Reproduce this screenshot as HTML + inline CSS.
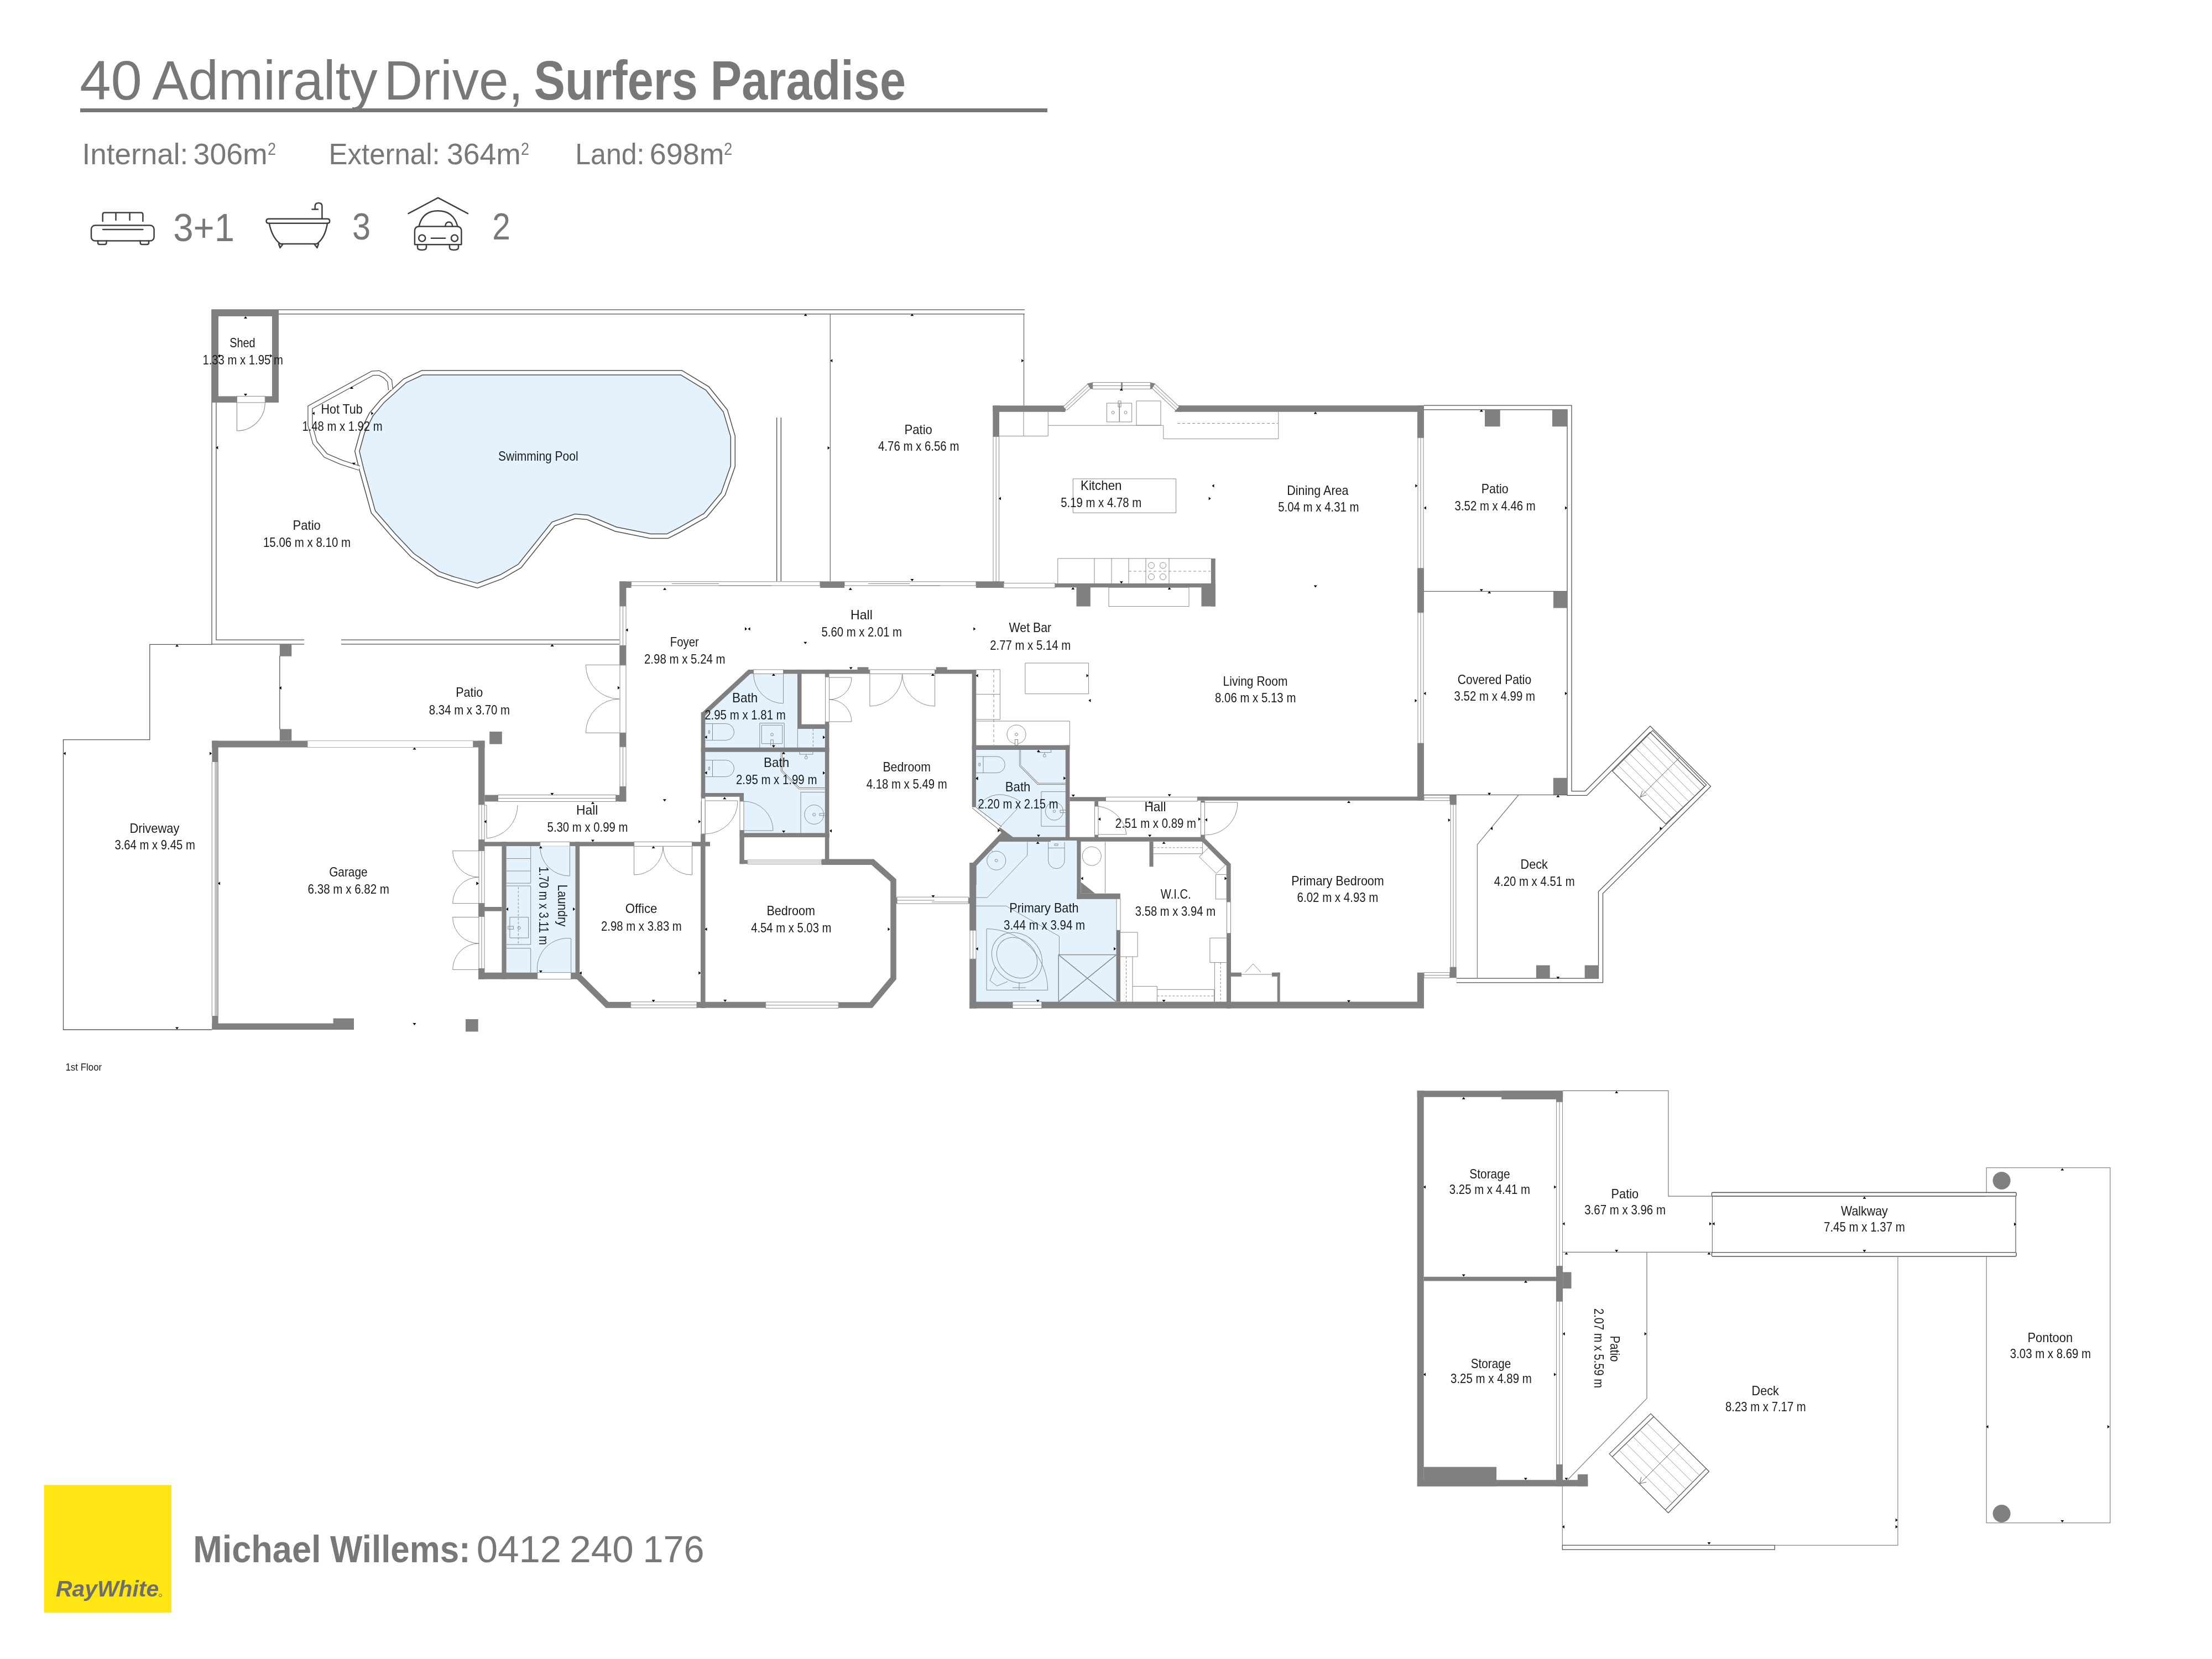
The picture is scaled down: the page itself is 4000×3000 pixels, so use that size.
<!DOCTYPE html><html><head><meta charset="utf-8"><style>html,body{margin:0;padding:0;background:#fff;}svg{display:block;will-change:transform;}text{font-family:"Liberation Sans",sans-serif;}</style></head><body>
<svg width="4000" height="3000" viewBox="0 0 4000 3000">
<rect width="4000" height="3000" fill="#fff"/>
<text x="144.2" y="179.5" font-size="100" fill="#787878" font-weight="normal" textLength="112.6" lengthAdjust="spacingAndGlyphs" >40</text>
<text x="275.2" y="179.5" font-size="100" fill="#787878" font-weight="normal" textLength="407.4" lengthAdjust="spacingAndGlyphs" >Admiralty</text>
<text x="694.4" y="179.5" font-size="100" fill="#787878" font-weight="normal" textLength="252.0" lengthAdjust="spacingAndGlyphs" >Drive,</text>
<text x="965.6" y="179.5" font-size="100" fill="#787878" font-weight="bold" textLength="296.1" lengthAdjust="spacingAndGlyphs" >Surfers</text>
<text x="1284.8" y="179.5" font-size="100" fill="#787878" font-weight="bold" textLength="353.2" lengthAdjust="spacingAndGlyphs" >Paradise</text>
<rect x="145.0" y="196.0" width="1749.0" height="7.0" fill="#787878"/>
<text x="148.6" y="296.5" font-size="53.8" fill="#787878" font-weight="normal" textLength="191.6" lengthAdjust="spacingAndGlyphs" >Internal:</text>
<text x="349.6" y="296.5" font-size="53.8" fill="#787878" font-weight="normal" textLength="134.2" lengthAdjust="spacingAndGlyphs" >306m</text>
<text x="594.6" y="296.5" font-size="53.8" fill="#787878" font-weight="normal" textLength="201.1" lengthAdjust="spacingAndGlyphs" >External:</text>
<text x="808.0" y="296.5" font-size="53.8" fill="#787878" font-weight="normal" textLength="133.8" lengthAdjust="spacingAndGlyphs" >364m</text>
<text x="1040.2" y="296.5" font-size="53.8" fill="#787878" font-weight="normal" textLength="125.3" lengthAdjust="spacingAndGlyphs" >Land:</text>
<text x="1174.8" y="296.5" font-size="53.8" fill="#787878" font-weight="normal" textLength="134.7" lengthAdjust="spacingAndGlyphs" >698m</text>
<text x="483.9" y="279.7" font-size="31" fill="#787878" font-weight="normal" textLength="15.0" lengthAdjust="spacingAndGlyphs" >2</text>
<text x="942.0" y="279.7" font-size="31" fill="#787878" font-weight="normal" textLength="15.0" lengthAdjust="spacingAndGlyphs" >2</text>
<text x="1309.2" y="279.7" font-size="31" fill="#787878" font-weight="normal" textLength="15.0" lengthAdjust="spacingAndGlyphs" >2</text>
<text x="313.2" y="435.6" font-size="70" fill="#787878" font-weight="normal" textLength="110.9" lengthAdjust="spacingAndGlyphs" >3+1</text>
<text x="636.9" y="432.5" font-size="69" fill="#787878" font-weight="normal" textLength="33.1" lengthAdjust="spacingAndGlyphs" >3</text>
<text x="890.2" y="432.5" font-size="69" fill="#787878" font-weight="normal" textLength="32.6" lengthAdjust="spacingAndGlyphs" >2</text>
<g fill="none" stroke="#3f3f3f" stroke-width="2.5" stroke-linecap="round" stroke-linejoin="round">
<path d="M185.7,400 V388 Q185.7,384.6 189,384.6 H255 Q258.4,384.6 258.4,388 V400"/>
<path d="M209.5,385 V398 M234.6,385 V398"/>
<rect x="165" y="407.6" width="113.6" height="28" rx="7"/>
<path d="M186.1,415 H258.4"/>
<path d="M177,435.6 V439 Q177,442 180,442 H189 Q192.5,442 192.5,439 V435.6 M253.7,435.6 V439 Q253.7,442 257,442 H266 Q269,442 269,439 V435.6"/>
<path d="M486,403.7 Q481.5,403.7 481.5,399.7 Q481.5,395.7 486,395.7 H592 Q596.2,395.7 596.2,399.7 Q596.2,403.7 592,403.7 Z"/>
<path d="M486.8,403.7 Q492,430 507,441 H572.9 Q588,430 592,403.7"/>
<path d="M504,441 L506.5,448 L512,441 M568,441 L573.5,448 L576,441"/>
<path d="M582.4,395.7 V373 Q582.4,367 576,367 Q569.7,367 569.7,373 V378.5 M564.4,378.5 H575"/>
<path d="M738.4,386.1 L792.1,357.7 L846,386.1"/>
<path d="M757.6,409.2 Q764,381.2 792.1,381.2 Q820,381.2 827.5,409.2"/>
<path d="M749.9,442.2 V418 Q749.9,409.6 758,409.6 H826 Q834.4,409.6 834.4,418 V442.2 Z"/>
<circle cx="763.2" cy="430.7" r="6"/><circle cx="822" cy="430.7" r="6"/>
<path d="M779.9,430.7 H805.2"/>
<path d="M755,442.2 V447 Q755,452 762,452 H764 Q771,452 771,447 V442.2 M812.9,442.2 V447 Q812.9,452 820,452 H822 Q829,452 829,447 V442.2"/>
<path d="M805.2,409 Q806,401.5 811.7,401.5 Q817.5,401.5 818.3,409"/>
</g>
<path d="M550,1161 H387 V564 H1853" fill="none" stroke="#4d4d4d" stroke-width="9.2" stroke-linejoin="miter"/><path d="M550,1161 H387 V564 H1853" fill="none" stroke="#fff" stroke-width="6.699999999999999" stroke-linejoin="miter"/>
<path d="M617,1161 H1120" fill="none" stroke="#4d4d4d" stroke-width="9.2" stroke-linejoin="miter"/><path d="M617,1161 H1120" fill="none" stroke="#fff" stroke-width="6.699999999999999" stroke-linejoin="miter"/>
<path d="M1851.5,568 V733.5" fill="none" stroke="#666" stroke-width="1.2" />
<path d="M1501.3,568 V1051" fill="none" stroke="#666" stroke-width="1.2" />
<path d="M1408.5,755 V1051" fill="none" stroke="#4d4d4d" stroke-width="9" stroke-linejoin="miter"/><path d="M1408.5,755 V1051" fill="none" stroke="#fff" stroke-width="6.4" stroke-linejoin="miter"/>
<rect x="383.0" y="560.0" width="121.0" height="12.0" fill="#808080"/>
<rect x="383.0" y="560.0" width="12.0" height="168.0" fill="#808080"/>
<rect x="492.0" y="560.0" width="12.0" height="168.0" fill="#808080"/>
<rect x="383.0" y="716.5" width="45.4" height="11.5" fill="#808080"/>
<rect x="479.3" y="716.5" width="24.7" height="11.5" fill="#808080"/>
<rect x="428.4" y="716.5" width="50.9" height="11.5" fill="#fff" stroke="#8a8a8a" stroke-width="1"/>
<path d="M428.4,728 V779 A51,51 0 0 0 479.3,728" fill="none" stroke="#8a8a8a" stroke-width="1.1" />
<polygon points="763.4,674.0 1232.2,674.0 1279.2,702.5 1311.7,743.0 1325.3,789.0 1325.3,843.0 1307.7,893.0 1275.2,932.0 1230.0,957.7 1207.0,969.5 1176.0,969.5 1113.5,957.0 1062.5,935.5 1040.0,933.5 1000.5,947.5 939.7,1023.6 906.4,1043.0 863.3,1059.0 820.0,1047.0 792.8,1037.4 745.8,1004.0 712.5,968.8 675.0,925.7 653.8,849.0 645.8,816.0 655.6,780.8 671.3,749.4 691.0,725.8 732.0,688.8" fill="#E3F2FC" stroke="#4d4d4d" stroke-width="9.5" stroke-linejoin="miter"/>
<polygon points="763.4,674.0 1232.2,674.0 1279.2,702.5 1311.7,743.0 1325.3,789.0 1325.3,843.0 1307.7,893.0 1275.2,932.0 1230.0,957.7 1207.0,969.5 1176.0,969.5 1113.5,957.0 1062.5,935.5 1040.0,933.5 1000.5,947.5 939.7,1023.6 906.4,1043.0 863.3,1059.0 820.0,1047.0 792.8,1037.4 745.8,1004.0 712.5,968.8 675.0,925.7 653.8,849.0 645.8,816.0 655.6,780.8 671.3,749.4 691.0,725.8 732.0,688.8" fill="none" stroke="#fff" stroke-width="6.5" stroke-linejoin="miter"/>
<path d="M649.8,846.5 L616.5,835.6 L589,823.8 L569.4,800.3 L560.9,769 L560.9,736.5 L673.3,675 L685,674.3 L694.8,679 L704.6,688.8 L706.5,705" fill="none" stroke="#4d4d4d" stroke-width="9.2" stroke-linejoin="miter"/><path d="M649.8,846.5 L616.5,835.6 L589,823.8 L569.4,800.3 L560.9,769 L560.9,736.5 L673.3,675 L685,674.3 L694.8,679 L704.6,688.8 L706.5,705" fill="none" stroke="#fff" stroke-width="6.699999999999999" stroke-linejoin="miter"/>
<text x="415.2" y="628.0" font-size="23.8" fill="#1a1a1a" font-weight="normal" textLength="46.5" lengthAdjust="spacingAndGlyphs" >Shed</text>
<text x="366.4" y="658.5" font-size="23.8" fill="#1a1a1a" font-weight="normal" textLength="145.4" lengthAdjust="spacingAndGlyphs" >1.33 m x 1.95 m</text>
<text x="580.6" y="748.0" font-size="23.8" fill="#1a1a1a" font-weight="normal" textLength="75.1" lengthAdjust="spacingAndGlyphs" >Hot Tub</text>
<text x="546.4" y="778.8" font-size="23.8" fill="#1a1a1a" font-weight="normal" textLength="145.2" lengthAdjust="spacingAndGlyphs" >1.48 m x 1.92 m</text>
<text x="901.0" y="832.5" font-size="23.8" fill="#1a1a1a" font-weight="normal" textLength="144.6" lengthAdjust="spacingAndGlyphs" >Swimming Pool</text>
<text x="529.6" y="958.3" font-size="23.8" fill="#1a1a1a" font-weight="normal" textLength="50.3" lengthAdjust="spacingAndGlyphs" >Patio</text>
<text x="476.0" y="988.5" font-size="23.8" fill="#1a1a1a" font-weight="normal" textLength="158.0" lengthAdjust="spacingAndGlyphs" >15.06 m x 8.10 m</text>
<text x="1635.6" y="784.6" font-size="23.8" fill="#1a1a1a" font-weight="normal" textLength="50.3" lengthAdjust="spacingAndGlyphs" >Patio</text>
<text x="1588.0" y="814.8" font-size="23.8" fill="#1a1a1a" font-weight="normal" textLength="146.4" lengthAdjust="spacingAndGlyphs" >4.76 m x 6.56 m</text>
<path d="M383.4,1165.3 H270.8 V1337.6 H114.5 V1862 H383.4" fill="none" stroke="#555" stroke-width="1.3" />
<path d="M505.8,1186 V1319" fill="none" stroke="#555" stroke-width="1.3" />
<rect x="505.8" y="1165.3" width="21.5" height="21.5" fill="#808080"/>
<rect x="505.8" y="1318.4" width="21.5" height="21.1" fill="#808080"/>
<rect x="885.2" y="1323.0" width="22.6" height="22.6" fill="#808080"/>
<rect x="383.2" y="1339.5" width="173.0" height="12.0" fill="#808080"/>
<rect x="556.2" y="1339.5" width="299.4" height="12.0" fill="#fff" stroke="#aaa" stroke-width="1"/>
<rect x="855.6" y="1339.5" width="20.9" height="12.0" fill="#808080"/>
<rect x="383.4" y="1339.5" width="11.3" height="38.5" fill="#808080"/>
<rect x="383" y="1378" width="11.5" height="459" fill="#fff"/><rect x="388.2" y="1378" width="5.8" height="459" fill="#c0c0c0"/><path d="M383.3,1378V1837M394.4,1378V1837" stroke="#888" stroke-width="1"/>
<rect x="383.4" y="1837.0" width="11.3" height="25.0" fill="#808080"/>
<rect x="383.4" y="1850.6" width="256.6" height="11.4" fill="#808080"/>
<rect x="602.6" y="1841.5" width="37.4" height="20.5" fill="#808080"/>
<rect x="842.0" y="1843.0" width="22.7" height="22.5" fill="#808080"/>
<rect x="865.0" y="1339.5" width="11.5" height="115.5" fill="#808080"/>
<rect x="866.0" y="1455.0" width="10.0" height="63.4" fill="#fff" stroke="#8a8a8a" stroke-width="1"/>
<path d="M871.0,1455.0V1518.4" stroke="#8a8a8a" stroke-width="1"/>
<rect x="865.0" y="1518.4" width="11.5" height="20.1" fill="#808080"/>
<rect x="866.0" y="1538.5" width="10.0" height="95.0" fill="#fff" stroke="#8a8a8a" stroke-width="1"/>
<path d="M871.0,1538.5V1633.5" stroke="#8a8a8a" stroke-width="1"/>
<rect x="865.0" y="1633.5" width="11.5" height="24.0" fill="#808080"/>
<rect x="866.0" y="1657.5" width="10.0" height="94.0" fill="#fff" stroke="#8a8a8a" stroke-width="1"/>
<path d="M871.0,1657.5V1751.5" stroke="#8a8a8a" stroke-width="1"/>
<rect x="865.0" y="1751.5" width="11.5" height="19.2" fill="#808080"/>
<rect x="876.5" y="1437.5" width="24.0" height="12.0" fill="#808080"/>
<path d="M866,1538.7 H818.6 A47.5,47.5 0 0 0 866,1586.2 M866,1633.6 H818.6 A47.5,47.5 0 0 1 866,1586.2" fill="none" stroke="#8a8a8a" stroke-width="1" />
<path d="M866,1658.5 H818.6 A47.5,47.5 0 0 0 866,1706 M866,1753.4 H818.6 A47.5,47.5 0 0 1 866,1706" fill="none" stroke="#8a8a8a" stroke-width="1" />
<rect x="900.5" y="1437.5" width="213.2" height="12.0" fill="#fff" stroke="#8a8a8a" stroke-width="1"/>
<path d="M900.5,1443.5H1113.7" stroke="#8a8a8a" stroke-width="1"/>
<rect x="1113.7" y="1437.5" width="18.5" height="12.0" fill="#808080"/>
<rect x="865.0" y="1522.3" width="111.6" height="8.0" fill="#808080"/>
<rect x="976.6" y="1522.3" width="53.8" height="8.0" fill="#fff" stroke="#8a8a8a" stroke-width="1"/>
<rect x="1030.4" y="1522.3" width="116.2" height="8.0" fill="#808080"/>
<rect x="1146.6" y="1522.3" width="104.9" height="8.0" fill="#fff" stroke="#8a8a8a" stroke-width="1"/>
<rect x="1251.5" y="1522.3" width="32.5" height="8.0" fill="#808080"/>
<path d="M876.3,1456 H880 V1516 A60,60 0 0 0 936,1456" fill="none" stroke="#8a8a8a" stroke-width="1" />
<rect x="876.0" y="1640.0" width="31.4" height="7.7" fill="#808080"/>
<rect x="915.6" y="1530.3" width="124.9" height="228.4" fill="#E3F2FC"/>
<rect x="907.4" y="1522.3" width="8.2" height="248.4" fill="#808080"/>
<rect x="1040.5" y="1522.3" width="7.7" height="248.4" fill="#808080"/>
<rect x="865.0" y="1758.7" width="106.8" height="12.0" fill="#808080"/>
<rect x="971.8" y="1758.7" width="60.8" height="12.0" fill="#fff" stroke="#8a8a8a" stroke-width="1"/>
<rect x="1032.6" y="1758.7" width="15.6" height="12.0" fill="#808080"/>
<path d="M915.6,1552.5 H959.7 M915.6,1575 H959.7 M915.6,1597.1 H959.7 V1530.3 M915.6,1602 H959.7 V1708 H915.6 M915.6,1714.8 H959.7 V1758.7 M921.9,1658.6 H955.6 V1696 H921.9 Z M918.7,1675 H928.4 V1680.3 H918.7 Z" fill="none" stroke="#8a8a8a" stroke-width="1" />
<path d="M937.3,1604 V1706" fill="none" stroke="#8a8a8a" stroke-width="1" stroke-dasharray="4,3"/>
<circle cx="938.7" cy="1677.9" r="2.5" fill="none" stroke="#8a8a8a" stroke-width="1"/>
<path d="M976.6,1530.3 A53,53 0 0 0 1030.4,1584 V1530.3 M971.8,1758.7 A55,55 0 0 1 1032.6,1697 V1758.7" fill="none" stroke="#8a8a8a" stroke-width="1" />
<path d="M1044.3,1764 L1098,1817.2 H1140.6" fill="none" stroke="#808080" stroke-width="11" stroke-linejoin="miter" stroke-miterlimit="10"/>
<rect x="1140.6" y="1811.7" width="119.4" height="10.9" fill="#fff" stroke="#8a8a8a" stroke-width="1"/>
<path d="M1140.6,1817.2H1260.0" stroke="#8a8a8a" stroke-width="1"/>
<rect x="1260.0" y="1811.7" width="124.6" height="10.9" fill="#808080"/>
<rect x="1267.0" y="1509.0" width="8.3" height="313.6" fill="#808080"/>
<path d="M1146.6,1530.3 V1582 A52,52 0 0 0 1199,1530.3 M1251.5,1530.3 V1582 A52,52 0 0 1 1199,1530.3" fill="none" stroke="#8a8a8a" stroke-width="1" />
<rect x="1268.0" y="1449.5" width="7.0" height="59.5" fill="#fff" stroke="#8a8a8a" stroke-width="1"/>
<path d="M1271.5,1449.5V1509.0" stroke="#8a8a8a" stroke-width="1"/>
<rect x="1120.5" y="1051.4" width="21.0" height="11.6" fill="#808080"/>
<rect x="1120.2" y="1051.4" width="12.2" height="44.7" fill="#808080"/>
<rect x="1121.0" y="1096.1" width="11.0" height="71.2" fill="#fff" stroke="#8a8a8a" stroke-width="1"/>
<path d="M1126.5,1096.1V1167.3" stroke="#8a8a8a" stroke-width="1"/>
<rect x="1120.2" y="1167.3" width="12.2" height="35.6" fill="#808080"/>
<rect x="1121.0" y="1202.9" width="11.0" height="122.3" fill="#fff" stroke="#8a8a8a" stroke-width="1"/>
<rect x="1120.2" y="1325.2" width="12.2" height="25.5" fill="#808080"/>
<rect x="1121.0" y="1350.7" width="11.0" height="71.7" fill="#fff" stroke="#8a8a8a" stroke-width="1"/>
<path d="M1126.5,1350.7V1422.4" stroke="#8a8a8a" stroke-width="1"/>
<rect x="1120.2" y="1422.4" width="12.2" height="27.1" fill="#808080"/>
<path d="M1120.5,1202.4 H1059.4 A61,61 0 0 0 1120.5,1264 M1120.5,1325.2 H1059.4 A61,61 0 0 1 1120.5,1264" fill="none" stroke="#8a8a8a" stroke-width="1" />
<text x="234.4" y="1505.7" font-size="23.8" fill="#1a1a1a" font-weight="normal" textLength="90.0" lengthAdjust="spacingAndGlyphs" >Driveway</text>
<text x="207.4" y="1536.4" font-size="23.8" fill="#1a1a1a" font-weight="normal" textLength="145.4" lengthAdjust="spacingAndGlyphs" >3.64 m x 9.45 m</text>
<text x="595.2" y="1585.3" font-size="23.8" fill="#1a1a1a" font-weight="normal" textLength="69.3" lengthAdjust="spacingAndGlyphs" >Garage</text>
<text x="556.6" y="1616.4" font-size="23.8" fill="#1a1a1a" font-weight="normal" textLength="147.4" lengthAdjust="spacingAndGlyphs" >6.38 m x 6.82 m</text>
<text x="824.2" y="1260.3" font-size="23.8" fill="#1a1a1a" font-weight="normal" textLength="49.1" lengthAdjust="spacingAndGlyphs" >Patio</text>
<text x="775.8" y="1291.6" font-size="23.8" fill="#1a1a1a" font-weight="normal" textLength="146.2" lengthAdjust="spacingAndGlyphs" >8.34 m x 3.70 m</text>
<text x="1042.0" y="1472.9" font-size="23.8" fill="#1a1a1a" font-weight="normal" textLength="39.4" lengthAdjust="spacingAndGlyphs" >Hall</text>
<text x="989.6" y="1504.3" font-size="23.8" fill="#1a1a1a" font-weight="normal" textLength="145.8" lengthAdjust="spacingAndGlyphs" >5.30 m x 0.99 m</text>
<text x="1130.8" y="1651.4" font-size="23.8" fill="#1a1a1a" font-weight="normal" textLength="57.6" lengthAdjust="spacingAndGlyphs" >Office</text>
<text x="1087.0" y="1682.7" font-size="23.8" fill="#1a1a1a" font-weight="normal" textLength="145.8" lengthAdjust="spacingAndGlyphs" >2.98 m x 3.83 m</text>
<text x="1211.8" y="1169.0" font-size="23.8" fill="#1a1a1a" font-weight="normal" textLength="52.0" lengthAdjust="spacingAndGlyphs" >Foyer</text>
<text x="1165.0" y="1199.5" font-size="23.8" fill="#1a1a1a" font-weight="normal" textLength="146.6" lengthAdjust="spacingAndGlyphs" >2.98 m x 5.24 m</text>
<g transform="translate(1009,1637.5) rotate(90)"><text x="0" y="0" font-size="23.8" fill="#1a1a1a" text-anchor="middle" textLength="76" lengthAdjust="spacingAndGlyphs">Laundry</text></g>
<g transform="translate(974.5,1638) rotate(90)"><text x="0" y="0" font-size="23.8" fill="#1a1a1a" text-anchor="middle" textLength="142" lengthAdjust="spacingAndGlyphs">1.70 m x 3.11 m</text></g>
<rect x="1482.9" y="1051.3" width="44.1" height="11.7" fill="#808080"/>
<rect x="1765.0" y="1051.3" width="51.0" height="11.7" fill="#808080"/>
<rect x="1141.5" y="1051.8" width="341.4" height="7.2" fill="#fff" stroke="#8a8a8a" stroke-width="1"/>
<rect x="1527.0" y="1051.8" width="238.0" height="7.2" fill="#fff" stroke="#8a8a8a" stroke-width="1"/>
<path d="M1215,1055.5 H1300 M1300,1059 H1395 M1570,1055.5 H1645 M1645,1059 H1700" fill="none" stroke="#8a8a8a" stroke-width="1" />
<rect x="1815.0" y="1054.6" width="92.8" height="8.4" fill="#fff"/>
<rect x="1815.0" y="1054.6" width="92.8" height="8.4" fill="#fff" stroke="#8a8a8a" stroke-width="1"/>
<rect x="1907.8" y="1055.0" width="290.0" height="7.3" fill="#808080"/>
<rect x="1946.5" y="1055.0" width="25.3" height="41.6" fill="#808080"/>
<rect x="2172.5" y="1062.0" width="25.3" height="34.6" fill="#808080"/>
<rect x="2189.9" y="1009.9" width="7.9" height="86.7" fill="#808080"/>
<rect x="2005.0" y="1062.3" width="145.0" height="34.3" fill="#fff" stroke="#8a8a8a" stroke-width="1"/>
<polygon fill="#E3F2FC" points="1352.6,1218.5 1442.0,1218.5 1442.0,1318.0 1491.8,1318.0 1491.8,1351.7 1275.3,1351.7 1275.3,1290.0"/>
<polygon fill="#E3F2FC" points="1275.3,1359.8 1491.8,1359.8 1491.8,1506.3 1345.0,1506.3 1345.0,1440.8 1275.3,1440.8"/>
<rect x="1352.6" y="1210.9" width="10.1" height="7.6" fill="#808080"/>
<rect x="1362.7" y="1210.9" width="53.9" height="7.6" fill="#fff" stroke="#8a8a8a" stroke-width="1"/>
<rect x="1416.6" y="1210.9" width="156.3" height="7.6" fill="#808080"/>
<rect x="1572.9" y="1210.9" width="117.7" height="7.6" fill="#fff" stroke="#8a8a8a" stroke-width="1"/>
<rect x="1690.6" y="1210.9" width="74.7" height="7.6" fill="#808080"/>
<rect x="1550.5" y="1206.4" width="20.0" height="4.6" fill="#808080"/>
<rect x="1692.7" y="1206.4" width="20.0" height="4.6" fill="#808080"/>
<path d="M1355,1214.7 L1271.5,1292" fill="none" stroke="#808080" stroke-width="8" stroke-linejoin="miter" stroke-miterlimit="10"/>
<rect x="1267.7" y="1288.0" width="7.6" height="155.4" fill="#808080"/>
<rect x="1267.7" y="1351.7" width="231.7" height="8.1" fill="#808080"/>
<rect x="1442.0" y="1210.9" width="7.5" height="107.1" fill="#808080"/>
<rect x="1442.0" y="1309.7" width="57.4" height="8.3" fill="#808080"/>
<rect x="1491.8" y="1210.9" width="7.6" height="13.4" fill="#808080"/>
<rect x="1492.6" y="1224.3" width="6.8" height="81.0" fill="#fff" stroke="#8a8a8a" stroke-width="1"/>
<rect x="1491.8" y="1305.3" width="7.6" height="257.1" fill="#808080"/>
<rect x="1267.7" y="1434.0" width="77.3" height="6.8" fill="#808080"/>
<rect x="1337.4" y="1434.0" width="7.6" height="15.0" fill="#808080"/>
<rect x="1338.0" y="1449.0" width="7.0" height="52.6" fill="#fff" stroke="#8a8a8a" stroke-width="1"/>
<rect x="1337.4" y="1501.6" width="8.4" height="60.7" fill="#808080"/>
<rect x="1337.6" y="1506.3" width="162.2" height="7.8" fill="#808080"/>
<rect x="1267.7" y="1508.0" width="7.6" height="315.0" fill="#808080"/>
<rect x="1268.5" y="1443.4" width="6.5" height="64.6" fill="#fff" stroke="#8a8a8a" stroke-width="1"/>
<rect x="1337.6" y="1555.2" width="14.1" height="7.1" fill="#808080"/>
<rect x="1351.7" y="1555.2" width="134.0" height="7.1" fill="#fff" stroke="#8a8a8a" stroke-width="1"/>
<path d="M1351.7,1558.8H1485.7" stroke="#8a8a8a" stroke-width="1"/>
<rect x="1485.7" y="1555.2" width="94.0" height="7.1" fill="#808080"/>
<path d="M1516.2,1817.5 H1575 L1615.5,1769 V1592 L1578,1558.7 H1486" fill="none" stroke="#808080" stroke-width="10.5" stroke-linejoin="miter" stroke-miterlimit="10"/>
<rect x="1384.6" y="1812.0" width="131.6" height="11.2" fill="#fff" stroke="#8a8a8a" stroke-width="1"/>
<path d="M1384.6,1817.6H1516.2" stroke="#8a8a8a" stroke-width="1"/>
<rect x="1622.0" y="1622.2" width="129.3" height="11.8" fill="#fff" stroke="#8a8a8a" stroke-width="1"/>
<path d="M1622,1628 H1690 M1685,1631 H1751" fill="none" stroke="#8a8a8a" stroke-width="1" />
<rect x="1617.3" y="1623.4" width="4.7" height="10.6" fill="#808080"/>
<rect x="1751.3" y="1623.4" width="7.1" height="10.6" fill="#808080"/>
<rect x="1757.7" y="1210.9" width="7.6" height="248.8" fill="#808080"/>
<path d="M1362.7,1218.5 A54,54 0 0 0 1416.6,1272 V1218.5" fill="none" stroke="#8a8a8a" stroke-width="1" />
<path d="M1572.9,1218.5 V1277 A58.8,58.8 0 0 0 1631.7,1218.5 M1690.6,1218.5 V1277 A58.8,58.8 0 0 1 1631.7,1218.5" fill="none" stroke="#8a8a8a" stroke-width="1" />
<path d="M1499.4,1225 H1540 A40,40 0 0 1 1499.4,1265 M1499.4,1305 H1540 A40,40 0 0 0 1499.4,1265" fill="none" stroke="#8a8a8a" stroke-width="1" />
<path d="M1345,1449 A53,53 0 0 1 1398,1502 H1345" fill="none" stroke="#8a8a8a" stroke-width="1" />
<path d="M1275.3,1448 H1334 A59,59 0 0 1 1275.3,1508" fill="none" stroke="#8a8a8a" stroke-width="1" />
<path d="M1275.5,1308.6 H1288.5 V1338.6 H1275.5 M1288.5,1308.6 H1312.5 A15,15 0 0 1 1312.5,1338.6 H1288.5 M1281.2,1321.1 H1283.5 V1326.1 H1281.2 Z" fill="none" stroke="#8a8a8a" stroke-width="1" />
<path d="M1275.5,1374.6 H1288.5 V1404.6 H1275.5 M1288.5,1374.6 H1312.5 A15,15 0 0 1 1312.5,1404.6 H1288.5 M1281.2,1387.1 H1283.5 V1392.1 H1281.2 Z" fill="none" stroke="#8a8a8a" stroke-width="1" />
<path d="M1373.8,1352.4 V1307.6 H1418.2 V1352.4 M1377.3,1311.3 H1414.7 V1344.7 H1377.3 Z M1393.7,1348.5 V1337.9 H1398.3 V1348.5" fill="none" stroke="#8a8a8a" stroke-width="1" />
<circle cx="1396" cy="1328.3" r="2.5" fill="none" stroke="#8a8a8a" stroke-width="1"/>
<path d="M1442.3,1317.7 V1351.7" fill="none" stroke="#8a8a8a" stroke-width="1" />
<path d="M1470.3,1318 V1351" fill="none" stroke="#8a8a8a" stroke-width="1" stroke-dasharray="4,3"/>
<path d="M1448,1506.3 V1432.5 H1491.5" fill="none" stroke="#8a8a8a" stroke-width="1" />
<circle cx="1472.2" cy="1473" r="17.4" fill="none" stroke="#8a8a8a" stroke-width="1"/><circle cx="1472.2" cy="1473" r="2.5" fill="none" stroke="#8a8a8a" stroke-width="1"/>
<path d="M1491.5,1471 H1481.8 V1474.8 H1491.5" fill="none" stroke="#8a8a8a" stroke-width="1" />
<path d="M1413.4,1360 V1393.9 L1445.2,1425.7 H1491.5" fill="none" stroke="#777" stroke-width="3.2"/><path d="M1413.4,1360 V1393.9 L1445.2,1425.7 H1491.5" fill="none" stroke="#fff" stroke-width="1.4"/>
<path d="M1446,1360 V1364 H1470 V1360 M1457.7,1364 V1368" fill="none" stroke="#8a8a8a" stroke-width="1" />
<circle cx="1457.7" cy="1370" r="2.5" fill="none" stroke="#8a8a8a" stroke-width="1"/>
<text x="1324.0" y="1269.9" font-size="23.8" fill="#1a1a1a" font-weight="normal" textLength="46.2" lengthAdjust="spacingAndGlyphs" >Bath</text>
<text x="1274.2" y="1301.0" font-size="23.8" fill="#1a1a1a" font-weight="normal" textLength="146.6" lengthAdjust="spacingAndGlyphs" >2.95 m x 1.81 m</text>
<text x="1381.0" y="1387.1" font-size="23.8" fill="#1a1a1a" font-weight="normal" textLength="46.2" lengthAdjust="spacingAndGlyphs" >Bath</text>
<text x="1331.0" y="1418.0" font-size="23.8" fill="#1a1a1a" font-weight="normal" textLength="146.4" lengthAdjust="spacingAndGlyphs" >2.95 m x 1.99 m</text>
<text x="1596.4" y="1395.0" font-size="23.8" fill="#1a1a1a" font-weight="normal" textLength="86.5" lengthAdjust="spacingAndGlyphs" >Bedroom</text>
<text x="1566.8" y="1425.7" font-size="23.8" fill="#1a1a1a" font-weight="normal" textLength="145.8" lengthAdjust="spacingAndGlyphs" >4.18 m x 5.49 m</text>
<text x="1386.4" y="1655.1" font-size="23.8" fill="#1a1a1a" font-weight="normal" textLength="87.5" lengthAdjust="spacingAndGlyphs" >Bedroom</text>
<text x="1358.2" y="1685.7" font-size="23.8" fill="#1a1a1a" font-weight="normal" textLength="145.2" lengthAdjust="spacingAndGlyphs" >4.54 m x 5.03 m</text>
<text x="1538.0" y="1120.0" font-size="23.8" fill="#1a1a1a" font-weight="normal" textLength="39.8" lengthAdjust="spacingAndGlyphs" >Hall</text>
<text x="1485.6" y="1150.5" font-size="23.8" fill="#1a1a1a" font-weight="normal" textLength="145.4" lengthAdjust="spacingAndGlyphs" >5.60 m x 2.01 m</text>
<text x="1824.6" y="1143.4" font-size="23.8" fill="#1a1a1a" font-weight="normal" textLength="76.6" lengthAdjust="spacingAndGlyphs" >Wet Bar</text>
<text x="1790.2" y="1175.2" font-size="23.8" fill="#1a1a1a" font-weight="normal" textLength="146.0" lengthAdjust="spacingAndGlyphs" >2.77 m x 5.14 m</text>
<rect x="1795.3" y="733.4" width="130.7" height="11.4" fill="#808080"/>
<polygon fill="#808080" points="1926.0,733.4 1931.0,733.4 1926.0,744.8 1919.0,744.8"/>
<rect x="2131.0" y="733.2" width="444.0" height="11.6" fill="#808080"/>
<polygon fill="#808080" points="2129.0,733.2 2136.0,733.2 2136.0,744.8 2124.0,744.8"/>
<path d="M1926,738.5 L1970.5,697.5" stroke="#8a8a8a" stroke-width="10" stroke-linecap="butt"/><path d="M1926,738.5 L1970.5,697.5" stroke="#fff" stroke-width="8"/><path d="M1926,738.5 L1970.5,697.5" stroke="#8a8a8a" stroke-width="1"/>
<path d="M2085,697.5 L2129,738.5" stroke="#8a8a8a" stroke-width="10" stroke-linecap="butt"/><path d="M2085,697.5 L2129,738.5" stroke="#fff" stroke-width="8"/><path d="M2085,697.5 L2129,738.5" stroke="#8a8a8a" stroke-width="1"/>
<rect x="1975.8" y="691.6" width="104.5" height="11.9" fill="#fff" stroke="#8a8a8a" stroke-width="1"/>
<path d="M1975.8,697.5H2080.3" stroke="#8a8a8a" stroke-width="1"/>
<polygon fill="#808080" points="1966.0,693.5 1975.8,691.6 1975.8,703.5 1972.0,703.5"/>
<polygon fill="#808080" points="2080.3,691.6 2089.0,693.5 2083.0,703.5 2080.3,703.5"/>
<rect x="2027.0" y="691.6" width="3.0" height="11.9" fill="#8a8a8a"/>
<rect x="1795.3" y="733.4" width="11.7" height="56.1" fill="#808080"/>
<rect x="1796.0" y="789.5" width="10.5" height="261.8" fill="#fff" stroke="#8a8a8a" stroke-width="1"/>
<path d="M1801.2,789.5V1051.3" stroke="#8a8a8a" stroke-width="1"/>
<rect x="2563.0" y="733.0" width="12.0" height="58.7" fill="#808080"/>
<rect x="2564.0" y="791.7" width="10.0" height="236.0" fill="#fff" stroke="#8a8a8a" stroke-width="1"/>
<path d="M2569.0,791.7V1027.7" stroke="#8a8a8a" stroke-width="1"/>
<rect x="2563.0" y="1027.7" width="12.0" height="79.9" fill="#808080"/>
<rect x="2564.0" y="1107.9" width="10.0" height="236.2" fill="#fff" stroke="#8a8a8a" stroke-width="1"/>
<path d="M2569.0,1107.9V1344.1" stroke="#8a8a8a" stroke-width="1"/>
<rect x="2563.0" y="1344.1" width="12.0" height="103.6" fill="#808080"/>
<path d="M1807,788.6 H1895.3 V744.8 M1851,744.8 V788.6 M1895.3,769.2 H2103.8 V793.6 H2311.8 V744.8" fill="none" stroke="#8a8a8a" stroke-width="1" />
<path d="M2129,765.5 H2311" fill="none" stroke="#8a8a8a" stroke-width="1" stroke-dasharray="5,4"/>
<path d="M2001.5,729 H2024 V763 H2001.5 Z M2024.5,729 H2046.7 V763 H2024.5 Z M2022,725 H2027 V736 H2022 Z" fill="none" stroke="#8a8a8a" stroke-width="1" />
<circle cx="2012.7" cy="746" r="2.5" fill="none" stroke="#8a8a8a" stroke-width="1"/><circle cx="2035.5" cy="746" r="2.5" fill="none" stroke="#8a8a8a" stroke-width="1"/>
<path d="M2055,725 H2099 V769 H2055 Z" fill="none" stroke="#8a8a8a" stroke-width="1" />
<path d="M1940.3,865.9 H2126.6 V927.4 H1940.3 Z" fill="none" stroke="#8a8a8a" stroke-width="1" />
<path d="M1912.8,1055 V1009.9 H2189.9 M1979,1009.9 V1055 M2010,1009.9 V1055 M2041,1009.9 V1055 M2072,1009.9 V1055 M2114,1009.9 V1055" fill="none" stroke="#8a8a8a" stroke-width="1" />
<path d="M2041,1033 H2189" fill="none" stroke="#8a8a8a" stroke-width="1" stroke-dasharray="5,4"/>
<circle cx="2082" cy="1022.5" r="5.5" fill="none" stroke="#8a8a8a" stroke-width="1"/>
<circle cx="2103" cy="1022.5" r="5.5" fill="none" stroke="#8a8a8a" stroke-width="1"/>
<circle cx="2082" cy="1043" r="5.5" fill="none" stroke="#8a8a8a" stroke-width="1"/>
<circle cx="2103" cy="1043" r="5.5" fill="none" stroke="#8a8a8a" stroke-width="1"/>
<path d="M1853.9,1199 H1968.6 V1254.7 H1853.9 Z" fill="none" stroke="#8a8a8a" stroke-width="1" />
<path d="M1765.3,1210.9 H1808.4 V1301 H1765.3 M1765.3,1255.4 H1808.4 M1765.3,1304 H1934.4 V1347.6" fill="none" stroke="#8a8a8a" stroke-width="1" />
<path d="M1797,1211 V1347" fill="none" stroke="#8a8a8a" stroke-width="1" stroke-dasharray="5,4"/>
<circle cx="1838" cy="1328" r="17" fill="none" stroke="#8a8a8a" stroke-width="1"/><circle cx="1838" cy="1328" r="2.5" fill="none" stroke="#8a8a8a" stroke-width="1"/><rect x="1835.5" y="1337.5" width="5" height="10" fill="#fff" stroke="#8a8a8a" stroke-width="1"/>
<polygon fill="#E3F2FC" points="1765.3,1356.0 1926.8,1356.0 1926.8,1513.7 1831.0,1513.7 1765.3,1459.0"/>
<rect x="1757.7" y="1347.6" width="176.7" height="8.4" fill="#808080"/>
<rect x="1926.8" y="1347.6" width="7.6" height="173.7" fill="#808080"/>
<path d="M1761.5,1464 L1808,1499" stroke="#fff" stroke-width="9"/><path d="M1758,1461 L1806,1500 M1765,1460 L1811,1495" stroke="#555" stroke-width="1"/>
<path d="M1809,1495 L1840,1462 M1767.7,1458 Q1800,1420 1846,1450" fill="none" stroke="#8a8a8a" stroke-width="1" />
<path d="M1844.5,1356 V1384.3 L1877,1417.4 H1926.8" fill="none" stroke="#777" stroke-width="3.2"/><path d="M1844.5,1356 V1384.3 L1877,1417.4 H1926.8" fill="none" stroke="#fff" stroke-width="1.4"/>
<path d="M1877,1356 V1360.7 H1900.6 V1356 M1888.8,1360.7 V1364" fill="none" stroke="#8a8a8a" stroke-width="1" />
<circle cx="1888.8" cy="1366.6" r="2.5" fill="none" stroke="#8a8a8a" stroke-width="1"/>
<path d="M1765.3,1368 H1778 V1397.6 H1765.3 M1778,1368 H1802.5 A14.8,14.8 0 0 1 1802.5,1397.6 H1778 M1770,1380 H1772.5 V1385 H1770 Z" fill="none" stroke="#8a8a8a" stroke-width="1" />
<path d="M1926.8,1431.6 H1882.9 V1494.2 H1926.8 M1926.8,1465 H1917 V1469.5 H1926.8" fill="none" stroke="#8a8a8a" stroke-width="1" />
<circle cx="1906.5" cy="1467" r="16.2" fill="none" stroke="#8a8a8a" stroke-width="1"/><circle cx="1906.5" cy="1467" r="2.3" fill="none" stroke="#8a8a8a" stroke-width="1"/>
<rect x="1934.4" y="1441.3" width="65.1" height="7.6" fill="#808080"/>
<rect x="1999.5" y="1441.3" width="165.8" height="7.6" fill="#fff" stroke="#8a8a8a" stroke-width="1"/>
<rect x="2165.3" y="1440.5" width="409.7" height="7.2" fill="#808080"/>
<rect x="1979.2" y="1448.9" width="6.8" height="9.1" fill="#808080"/>
<rect x="1979.5" y="1458.0" width="6.5" height="52.0" fill="#fff" stroke="#8a8a8a" stroke-width="1"/>
<rect x="1979.2" y="1510.0" width="6.8" height="11.0" fill="#808080"/>
<rect x="2171.1" y="1447.7" width="7.6" height="3.3" fill="#808080"/>
<rect x="2171.5" y="1451.0" width="7.0" height="59.0" fill="#fff" stroke="#8a8a8a" stroke-width="1"/>
<rect x="2171.1" y="1510.0" width="7.6" height="11.8" fill="#808080"/>
<rect x="1831.0" y="1513.7" width="344.4" height="8.1" fill="#808080"/>
<path d="M1986,1458 A58,58 0 0 1 2037,1509 H1986 M2178.7,1451 H2238 A58,58 0 0 1 2178.7,1510" fill="none" stroke="#8a8a8a" stroke-width="1" />
<polygon fill="#E3F2FC" points="1805.0,1520.0 1947.3,1520.0 1947.3,1625.0 2018.5,1625.0 2018.5,1811.4 1765.3,1811.4 1765.3,1563.0"/>
<polygon fill="#808080" points="1807.5,1495.5 1832.6,1514.3 1900.0,1514.3 1900.0,1522.0 1807.5,1522.0 1765.6,1565.4 1765.6,1600.0 1757.4,1600.0 1757.4,1562.0 1810.9,1505.6 1805.6,1500.3"/>
<rect x="1753.2" y="1560.0" width="12.1" height="122.3" fill="#808080"/>
<rect x="1754.0" y="1682.3" width="11.0" height="51.9" fill="#fff" stroke="#8a8a8a" stroke-width="1"/>
<path d="M1759.5,1682.3V1734.2" stroke="#8a8a8a" stroke-width="1"/>
<rect x="1753.2" y="1734.2" width="12.1" height="89.3" fill="#808080"/>
<rect x="1753.2" y="1811.4" width="77.9" height="12.1" fill="#808080"/>
<rect x="1831.1" y="1811.4" width="52.7" height="12.1" fill="#fff" stroke="#8a8a8a" stroke-width="1"/>
<path d="M1831.1,1817.5H1883.8" stroke="#8a8a8a" stroke-width="1"/>
<rect x="1883.8" y="1811.4" width="691.2" height="12.1" fill="#808080"/>
<rect x="1947.3" y="1514.0" width="7.2" height="111.8" fill="#808080"/>
<polygon fill="#808080" points="1954.5,1595.0 1980.5,1615.7 1954.5,1615.7"/>
<rect x="1947.3" y="1615.7" width="78.6" height="10.1" fill="#808080"/>
<rect x="2019.0" y="1625.3" width="7.0" height="57.0" fill="#fff" stroke="#8a8a8a" stroke-width="1"/>
<rect x="2018.5" y="1682.3" width="7.6" height="129.1" fill="#808080"/>
<path d="M1914.2,1811.4 V1726.6 H2018.5 M1914.2,1726.6 L2018.5,1811.4 M2018.5,1726.6 L1914.2,1811.4" fill="none" stroke="#8a8a8a" stroke-width="1.5" />
<path d="M1784,1679.6 A110.7,110.7 0 0 1 1894.7,1790.4 H1784 Z M1764.8,1638.3 H1819.4 L1915.4,1693 V1726.9" fill="none" stroke="#8a8a8a" stroke-width="1" />
<ellipse cx="1839" cy="1732" rx="49" ry="42" transform="rotate(45 1839 1732)" fill="none" stroke="#8a8a8a" stroke-width="1"/><ellipse cx="1839" cy="1732" rx="40" ry="33" transform="rotate(45 1839 1732)" fill="none" stroke="#8a8a8a" stroke-width="1"/>
<path d="M1800,1748 L1790,1773 L1803,1783 L1822,1775" fill="none" stroke="#8a8a8a" stroke-width="1" />
<path d="M1831,1786 H1855 M1843,1776 V1790" fill="none" stroke="#8a8a8a" stroke-width="1" />
<path d="M1764.8,1623 H1785.4 L1857.8,1546.7 V1522.5 M1784,1541 L1790,1535 L1796,1541" fill="none" stroke="#8a8a8a" stroke-width="1" />
<circle cx="1801.7" cy="1556.2" r="17" fill="none" stroke="#8a8a8a" stroke-width="1"/><circle cx="1801.7" cy="1556.2" r="2.5" fill="none" stroke="#8a8a8a" stroke-width="1"/>
<path d="M1895.6,1522.5 V1556 A14.75,14.75 0 0 0 1925.1,1556 V1522.5 M1895.6,1533.4 H1925.1 M1907,1526 H1913 V1529 H1907 Z" fill="none" stroke="#8a8a8a" stroke-width="1" />
<rect x="2078.5" y="1521.8" width="7.1" height="45.5" fill="#808080"/>
<path d="M2175.4,1518 L2221.7,1564 V1631.2" fill="none" stroke="#808080" stroke-width="8" stroke-linejoin="miter" stroke-miterlimit="10"/>
<rect x="2218.5" y="1631.0" width="7.0" height="56.8" fill="#fff" stroke="#8a8a8a" stroke-width="1"/>
<rect x="2218.0" y="1687.8" width="8.0" height="135.7" fill="#808080"/>
<path d="M2025.9,1686 H2057.1 V1730 H2025.9 M2048,1730 V1812 M2048,1783.6 H2092.4 V1812 M2092.4,1789.4 H2195.6 V1812 M2187.9,1696.2 H2217.8 M2187.9,1696.2 V1740.6 H2217.8 M2196.6,1740.6 V1812" fill="none" stroke="#8a8a8a" stroke-width="1" />
<path d="M2036.5,1730 V1812 M2207.2,1740.6 V1812 M2092.4,1801 H2195.6 M2085.7,1532.8 H2174.4" fill="none" stroke="#8a8a8a" stroke-width="1" stroke-dasharray="4,3"/>
<path d="M2085.7,1543.8 H2174.4 V1522.5 M1998.5,1522.5 V1615 M2168.6,1549.6 L2185,1533.2 L2215.9,1564 L2199.5,1579.5 Z M2198.5,1581.4 H2217.8 M2198.5,1581.4 V1625.8 H2217.8" fill="none" stroke="#8a8a8a" stroke-width="1" />
<circle cx="1974.3" cy="1548.2" r="17" fill="none" stroke="#8a8a8a" stroke-width="1"/>
<rect x="2562.9" y="1758.7" width="12.1" height="62.6" fill="#808080"/>
<rect x="2575.0" y="1758.7" width="46.7" height="9.6" fill="#fff" stroke="#8a8a8a" stroke-width="1"/>
<path d="M2575.0,1763.5H2621.7" stroke="#8a8a8a" stroke-width="1"/>
<rect x="2621.7" y="1749.0" width="12.1" height="19.3" fill="#808080"/>
<rect x="2621.7" y="1438.0" width="12.1" height="17.0" fill="#808080"/>
<rect x="2623.2" y="1455.0" width="9.6" height="294.0" fill="#fff" stroke="#8a8a8a" stroke-width="1"/>
<path d="M2628.0,1455.0V1749.0" stroke="#8a8a8a" stroke-width="1"/>
<rect x="2575.0" y="1438.0" width="46.7" height="9.7" fill="#fff" stroke="#8a8a8a" stroke-width="1"/>
<path d="M2575.0,1442.8H2621.7" stroke="#8a8a8a" stroke-width="1"/>
<rect x="2226.0" y="1758.7" width="19.0" height="7.2" fill="#808080"/>
<rect x="2300.0" y="1758.7" width="14.6" height="7.2" fill="#808080"/>
<rect x="2309.8" y="1758.7" width="4.8" height="62.6" fill="#808080"/>
<path d="M2245,1762 H2300 M2252,1758 L2266,1743 L2280,1758" fill="none" stroke="#8a8a8a" stroke-width="1" />
<path d="M2178.7,1521.8 V1510" fill="none" stroke="#8a8a8a" stroke-width="1" />
<path d="M2575,737 H2838 V1434.5 H2868 L2984,1318.5 L3088,1422 L2894.5,1614 V1773 H2633.8" fill="none" stroke="#4d4d4d" stroke-width="9.2" stroke-linejoin="miter"/><path d="M2575,737 H2838 V1434.5 H2868 L2984,1318.5 L3088,1422 L2894.5,1614 V1773 H2633.8" fill="none" stroke="#fff" stroke-width="6.699999999999999" stroke-linejoin="miter"/>
<rect x="2685.0" y="740.7" width="27.7" height="30.6" fill="#808080"/>
<rect x="2807.0" y="740.7" width="27.3" height="30.6" fill="#808080"/>
<rect x="2809.0" y="1069.4" width="25.3" height="30.1" fill="#808080"/>
<rect x="2808.8" y="1406.7" width="25.5" height="31.6" fill="#808080"/>
<path d="M2575,1069.4 H2834 M2575,1437.3 H2834" fill="none" stroke="#666" stroke-width="1.2" />
<path d="M2746.1,1437.5 L2671.4,1527.3 V1768.3" fill="none" stroke="#777" stroke-width="1.2" />
<rect x="2777.9" y="1745.5" width="24.8" height="24.1" fill="#808080"/>
<rect x="2865.7" y="1745.5" width="25.1" height="24.1" fill="#808080"/>
<path d="M2915.8,1394.4 L2988.6,1320.8 L3085.7,1419.5 L3012,1490 Z" fill="none" stroke="#555" stroke-width="1.2" />
<path d="M2926.2,1383.9 L3022.5,1479.9" fill="none" stroke="#999" stroke-width="1" />
<path d="M2936.6,1373.4 L3033.1,1469.9" fill="none" stroke="#999" stroke-width="1" />
<path d="M2947.0,1362.9 L3043.6,1459.8" fill="none" stroke="#999" stroke-width="1" />
<path d="M2957.4,1352.3 L3054.1,1449.7" fill="none" stroke="#999" stroke-width="1" />
<path d="M2967.8,1341.8 L3064.6,1439.6" fill="none" stroke="#999" stroke-width="1" />
<path d="M2978.2,1331.3 L3075.2,1429.6" fill="none" stroke="#999" stroke-width="1" />
<path d="M3037,1370 L2966,1441.5 M2966,1441.5 L2970,1430 M2966,1441.5 L2977,1437.5" fill="none" stroke="#666" stroke-width="1" />
<text x="1954.0" y="885.8" font-size="23.8" fill="#1a1a1a" font-weight="normal" textLength="74.5" lengthAdjust="spacingAndGlyphs" >Kitchen</text>
<text x="1918.2" y="916.5" font-size="23.8" fill="#1a1a1a" font-weight="normal" textLength="146.0" lengthAdjust="spacingAndGlyphs" >5.19 m x 4.78 m</text>
<text x="2327.2" y="894.5" font-size="23.8" fill="#1a1a1a" font-weight="normal" textLength="111.4" lengthAdjust="spacingAndGlyphs" >Dining Area</text>
<text x="2311.2" y="924.9" font-size="23.8" fill="#1a1a1a" font-weight="normal" textLength="146.4" lengthAdjust="spacingAndGlyphs" >5.04 m x 4.31 m</text>
<text x="2678.8" y="891.8" font-size="23.8" fill="#1a1a1a" font-weight="normal" textLength="48.9" lengthAdjust="spacingAndGlyphs" >Patio</text>
<text x="2630.6" y="923.0" font-size="23.8" fill="#1a1a1a" font-weight="normal" textLength="146.2" lengthAdjust="spacingAndGlyphs" >3.52 m x 4.46 m</text>
<text x="2211.6" y="1239.5" font-size="23.8" fill="#1a1a1a" font-weight="normal" textLength="116.9" lengthAdjust="spacingAndGlyphs" >Living Room</text>
<text x="2197.0" y="1270.3" font-size="23.8" fill="#1a1a1a" font-weight="normal" textLength="146.4" lengthAdjust="spacingAndGlyphs" >8.06 m x 5.13 m</text>
<text x="2635.8" y="1236.6" font-size="23.8" fill="#1a1a1a" font-weight="normal" textLength="133.4" lengthAdjust="spacingAndGlyphs" >Covered Patio</text>
<text x="2629.6" y="1267.0" font-size="23.8" fill="#1a1a1a" font-weight="normal" textLength="146.4" lengthAdjust="spacingAndGlyphs" >3.52 m x 4.99 m</text>
<text x="1817.8" y="1431.1" font-size="23.8" fill="#1a1a1a" font-weight="normal" textLength="45.6" lengthAdjust="spacingAndGlyphs" >Bath</text>
<text x="1768.4" y="1462.3" font-size="23.8" fill="#1a1a1a" font-weight="normal" textLength="145.2" lengthAdjust="spacingAndGlyphs" >2.20 m x 2.15 m</text>
<text x="2069.4" y="1466.8" font-size="23.8" fill="#1a1a1a" font-weight="normal" textLength="39.2" lengthAdjust="spacingAndGlyphs" >Hall</text>
<text x="2016.8" y="1497.2" font-size="23.8" fill="#1a1a1a" font-weight="normal" textLength="146.2" lengthAdjust="spacingAndGlyphs" >2.51 m x 0.89 m</text>
<text x="1825.2" y="1650.1" font-size="23.8" fill="#1a1a1a" font-weight="normal" textLength="125.3" lengthAdjust="spacingAndGlyphs" >Primary Bath</text>
<text x="1815.0" y="1680.5" font-size="23.8" fill="#1a1a1a" font-weight="normal" textLength="147.2" lengthAdjust="spacingAndGlyphs" >3.44 m x 3.94 m</text>
<text x="2098.8" y="1625.3" font-size="23.8" fill="#1a1a1a" font-weight="normal" textLength="55.0" lengthAdjust="spacingAndGlyphs" >W.I.C.</text>
<text x="2052.8" y="1655.7" font-size="23.8" fill="#1a1a1a" font-weight="normal" textLength="145.2" lengthAdjust="spacingAndGlyphs" >3.58 m x 3.94 m</text>
<text x="2335.2" y="1600.5" font-size="23.8" fill="#1a1a1a" font-weight="normal" textLength="167.6" lengthAdjust="spacingAndGlyphs" >Primary Bedroom</text>
<text x="2345.6" y="1630.9" font-size="23.8" fill="#1a1a1a" font-weight="normal" textLength="146.8" lengthAdjust="spacingAndGlyphs" >6.02 m x 4.93 m</text>
<text x="2749.6" y="1570.7" font-size="23.8" fill="#1a1a1a" font-weight="normal" textLength="49.3" lengthAdjust="spacingAndGlyphs" >Deck</text>
<text x="2701.8" y="1602.0" font-size="23.8" fill="#1a1a1a" font-weight="normal" textLength="145.8" lengthAdjust="spacingAndGlyphs" >4.20 m x 4.51 m</text>
<text x="118.4" y="1936.0" font-size="19" fill="#1a1a1a" font-weight="normal" textLength="65.8" lengthAdjust="spacingAndGlyphs" >1st Floor</text>
<rect x="2562.7" y="1972.4" width="12.0" height="715.4" fill="#808080"/>
<rect x="2562.7" y="1972.4" width="263.4" height="11.4" fill="#808080"/>
<rect x="2715.2" y="1972.4" width="110.9" height="15.6" fill="#808080"/>
<rect x="2813.9" y="1972.4" width="12.2" height="20.3" fill="#808080"/>
<rect x="2814.5" y="1992.7" width="11.0" height="296.7" fill="#fff" stroke="#8a8a8a" stroke-width="1"/>
<path d="M2820.0,1992.7V2289.4" stroke="#8a8a8a" stroke-width="1"/>
<rect x="2813.9" y="2289.4" width="12.2" height="63.9" fill="#808080"/>
<rect x="2826.1" y="2300.4" width="15.4" height="29.6" fill="#808080"/>
<rect x="2574.7" y="2308.8" width="239.2" height="7.7" fill="#808080"/>
<rect x="2814.5" y="2353.3" width="11.0" height="295.3" fill="#fff" stroke="#8a8a8a" stroke-width="1"/>
<path d="M2820.0,2353.3V2648.6" stroke="#8a8a8a" stroke-width="1"/>
<rect x="2813.9" y="2648.6" width="12.2" height="39.2" fill="#808080"/>
<rect x="2562.9" y="2676.2" width="308.4" height="11.6" fill="#808080"/>
<rect x="2574.5" y="2652.7" width="131.6" height="35.1" fill="#808080"/>
<rect x="2852.9" y="2666.1" width="18.4" height="21.7" fill="#808080"/>
<path d="M2826.1,1972.4 H3016.9 V2163.2 H3096" fill="none" stroke="#777" stroke-width="1.2" />
<path d="M2826.1,2264.4 H3096 M2978,2264.4 V2528.8 L2834.7,2676.2" fill="none" stroke="#777" stroke-width="1.2" />
<rect x="3095.5" y="2156.5" width="550.5" height="6.5" fill="#fff" stroke="#555" stroke-width="1.3" rx="1.5"/>
<rect x="3095.5" y="2264.8" width="550.5" height="7" fill="#fff" stroke="#555" stroke-width="1.3" rx="1.5"/>
<path d="M3096.4,2163 V2264.4 M3645,2163 V2264.4" fill="none" stroke="#777" stroke-width="1.2" />
<rect x="3592.2" y="2111.6" width="223.6" height="642.2" fill="none" stroke="#888" stroke-width="1.3"/>
<rect x="3095.5" y="2156.5" width="550.5" height="6.5" fill="#fff" stroke="#555" stroke-width="1.3" rx="1.5"/>
<rect x="3095.5" y="2264.8" width="550.5" height="7" fill="#fff" stroke="#555" stroke-width="1.3" rx="1.5"/>
<rect x="3590" y="2163.8" width="54.3" height="100" fill="#fff"/>
<path d="M3645,2163 V2264.4" fill="none" stroke="#888" stroke-width="1.2" />
<circle cx="3619.6" cy="2134.9" r="16" fill="#808080"/><circle cx="3619.6" cy="2737" r="16" fill="#808080"/>
<path d="M3431.9,2272 V2794.3 H3209.2" fill="none" stroke="#888" stroke-width="1.2" />
<path d="M2825.3,2687.8 V2794.3" fill="none" stroke="#888" stroke-width="1.2" />
<rect x="2825.3" y="2794.3" width="383.9" height="7.9" fill="#fff" stroke="#555" stroke-width="1.3"/>
<path d="M2910.1,2629.1 L2985.1,2556.3 L3090.5,2660.8 L3016.8,2735.8 Z" fill="none" stroke="#555" stroke-width="1.3" />
<path d="M2915.5,2634.5 L2990.5,2561.7 M3011.5,2730.4 L3085.5,2655.4" fill="none" stroke="#555" stroke-width="1.2" />
<path d="M2928.0,2622.4 L3023.8,2717.9" fill="none" stroke="#999" stroke-width="1" />
<path d="M2940.5,2610.2 L3036.2,2705.4" fill="none" stroke="#999" stroke-width="1" />
<path d="M2953.0,2598.1 L3048.5,2692.9" fill="none" stroke="#999" stroke-width="1" />
<path d="M2965.5,2586.0 L3060.8,2680.4" fill="none" stroke="#999" stroke-width="1" />
<path d="M2978.0,2573.8 L3073.2,2667.9" fill="none" stroke="#999" stroke-width="1" />
<path d="M3037.5,2610.5 L2965,2683 M2965,2683 L2968,2671 M2965,2683 L2977,2680" fill="none" stroke="#666" stroke-width="1" />
<text x="2657.2" y="2130.8" font-size="23.8" fill="#1a1a1a" font-weight="normal" textLength="73.4" lengthAdjust="spacingAndGlyphs" >Storage</text>
<text x="2620.8" y="2159.0" font-size="23.8" fill="#1a1a1a" font-weight="normal" textLength="146.2" lengthAdjust="spacingAndGlyphs" >3.25 m x 4.41 m</text>
<text x="2913.6" y="2167.4" font-size="23.8" fill="#1a1a1a" font-weight="normal" textLength="49.5" lengthAdjust="spacingAndGlyphs" >Patio</text>
<text x="2865.2" y="2195.6" font-size="23.8" fill="#1a1a1a" font-weight="normal" textLength="146.8" lengthAdjust="spacingAndGlyphs" >3.67 m x 3.96 m</text>
<text x="3329.0" y="2198.1" font-size="23.8" fill="#1a1a1a" font-weight="normal" textLength="84.8" lengthAdjust="spacingAndGlyphs" >Walkway</text>
<text x="3298.0" y="2226.8" font-size="23.8" fill="#1a1a1a" font-weight="normal" textLength="146.8" lengthAdjust="spacingAndGlyphs" >7.45 m x 1.37 m</text>
<text x="3666.4" y="2427.3" font-size="23.8" fill="#1a1a1a" font-weight="normal" textLength="81.7" lengthAdjust="spacingAndGlyphs" >Pontoon</text>
<text x="3634.8" y="2455.5" font-size="23.8" fill="#1a1a1a" font-weight="normal" textLength="146.2" lengthAdjust="spacingAndGlyphs" >3.03 m x 8.69 m</text>
<text x="3167.6" y="2523.0" font-size="23.8" fill="#1a1a1a" font-weight="normal" textLength="49.3" lengthAdjust="spacingAndGlyphs" >Deck</text>
<text x="3120.0" y="2551.7" font-size="23.8" fill="#1a1a1a" font-weight="normal" textLength="145.8" lengthAdjust="spacingAndGlyphs" >8.23 m x 7.17 m</text>
<text x="2659.8" y="2474.0" font-size="23.8" fill="#1a1a1a" font-weight="normal" textLength="72.5" lengthAdjust="spacingAndGlyphs" >Storage</text>
<text x="2623.0" y="2500.6" font-size="23.8" fill="#1a1a1a" font-weight="normal" textLength="146.8" lengthAdjust="spacingAndGlyphs" >3.25 m x 4.89 m</text>
<g transform="translate(2912,2439) rotate(90)"><text x="0" y="0" font-size="23.8" fill="#1a1a1a" text-anchor="middle" textLength="47" lengthAdjust="spacingAndGlyphs">Patio</text></g>
<g transform="translate(2883,2438) rotate(90)"><text x="0" y="0" font-size="23.8" fill="#1a1a1a" text-anchor="middle" textLength="144" lengthAdjust="spacingAndGlyphs">2.07 m x 5.59 m</text></g>
<path fill="#000" d="M441.0,576.0 L447.0,576.0 L444.0,572.0Z M441.0,712.0 L447.0,712.0 L444.0,716.0Z M397.8,640.6 L397.8,646.6 L393.8,643.6Z M488.3,640.6 L488.3,646.6 L492.3,643.6Z M394.3,806.4 L394.3,812.4 L390.3,809.4Z M633.0,703.0 L639.0,703.0 L636.0,699.0Z M568.7,744.5 L568.7,750.5 L564.7,747.5Z M671.3,744.5 L671.3,750.5 L675.3,747.5Z M637.0,836.8 L643.0,836.8 L640.0,840.8Z M995.5,1168.8 L1001.5,1168.8 L998.5,1164.8Z M1453.7,571.2 L1459.7,571.2 L1456.7,567.2Z M1646.4,571.2 L1652.4,571.2 L1649.4,567.2Z M1505.3,649.2 L1505.3,655.2 L1501.3,652.2Z M1847.2,649.2 L1847.2,655.2 L1851.2,652.2Z M1496.6,807.1 L1496.6,813.1 L1500.6,810.1Z M1810.0,898.4 L1810.0,904.4 L1806.0,901.4Z M1646.4,1047.1 L1652.4,1047.1 L1649.4,1051.1Z M1199.0,1066.8 L1205.0,1066.8 L1202.0,1062.8Z M1534.8,1066.8 L1540.8,1066.8 L1537.8,1062.8Z M1135.4,1136.2 L1135.4,1142.2 L1131.4,1139.2Z M1347.0,1134.2 L1347.0,1140.2 L1351.0,1137.2Z M1356.5,1134.2 L1356.5,1140.2 L1352.5,1137.2Z M1453.3,1160.7 L1459.3,1160.7 L1456.3,1164.7Z M1760.3,1134.2 L1760.3,1140.2 L1764.3,1137.2Z M2024.8,706.2 L2030.8,706.2 L2027.8,702.2Z M2375.7,748.6 L2381.7,748.6 L2378.7,744.6Z M2195.5,875.6 L2195.5,881.6 L2191.5,878.6Z M2185.7,898.4 L2185.7,904.4 L2189.7,901.4Z M2559.3,875.6 L2559.3,881.6 L2563.3,878.6Z M2578.9,915.4 L2578.9,921.4 L2574.9,918.4Z M2024.8,1051.3 L2030.8,1051.3 L2027.8,1055.3Z M1937.3,1066.1 L1943.3,1066.1 L1940.3,1062.1Z M2111.6,1066.1 L2117.6,1066.1 L2114.6,1062.1Z M2375.7,1058.5 L2381.7,1058.5 L2378.7,1062.5Z M2675.8,744.6 L2681.8,744.6 L2678.8,740.6Z M2830.1,915.4 L2830.1,921.4 L2834.1,918.4Z M2675.8,1065.5 L2681.8,1065.5 L2678.8,1069.5Z M2690.2,1073.0 L2696.2,1073.0 L2693.2,1069.0Z M317.1,1169.2 L323.1,1169.2 L320.1,1165.2Z M508.8,1241.0 L508.8,1247.0 L504.8,1244.0Z M118.7,1359.4 L118.7,1365.4 L114.7,1362.4Z M379.1,1359.4 L379.1,1365.4 L383.1,1362.4Z M746.5,1355.4 L752.5,1355.4 L749.5,1351.4Z M398.0,1594.5 L398.0,1600.5 L394.0,1597.5Z M861.8,1594.5 L861.8,1600.5 L865.8,1597.5Z M879.4,1482.8 L879.4,1488.8 L875.4,1485.8Z M317.1,1857.6 L323.1,1857.6 L320.1,1861.6Z M746.5,1850.0 L752.5,1850.0 L749.5,1854.0Z M995.4,1169.0 L1001.4,1169.0 L998.4,1165.0Z M1116.9,1240.8 L1116.9,1246.8 L1120.9,1243.8Z M995.4,1434.0 L1001.4,1434.0 L998.4,1438.0Z M1068.9,1453.8 L1074.9,1453.8 L1071.9,1449.8Z M1198.8,1445.2 L1204.8,1445.2 L1201.8,1449.2Z M1263.1,1482.7 L1263.1,1488.7 L1267.1,1485.7Z M1278.4,1330.1 L1278.4,1336.1 L1274.4,1333.1Z M1278.4,1394.5 L1278.4,1400.5 L1274.4,1397.5Z M1307.3,1445.2 L1313.3,1445.2 L1310.3,1441.2Z M1395.9,1222.0 L1401.9,1222.0 L1398.9,1218.0Z M1535.7,1206.4 L1541.7,1206.4 L1538.7,1210.4Z M1683.8,1222.0 L1689.8,1222.0 L1686.8,1218.0Z M1768.6,1218.8 L1768.6,1224.8 L1764.6,1221.8Z M1488.0,1330.2 L1488.0,1336.2 L1492.0,1333.2Z M1395.9,1347.7 L1401.9,1347.7 L1398.9,1351.7Z M1414.1,1363.6 L1420.1,1363.6 L1417.1,1359.6Z M1488.0,1394.8 L1488.0,1400.8 L1492.0,1397.8Z M1414.1,1502.1 L1420.1,1502.1 L1417.1,1506.1Z M1504.0,1499.4 L1504.0,1505.4 L1500.0,1502.4Z M1768.6,1404.9 L1768.6,1410.9 L1764.6,1407.9Z M1068.9,1518.4 L1074.9,1518.4 L1071.9,1522.4Z M974.8,1534.0 L980.8,1534.0 L977.8,1530.0Z M1178.6,1534.0 L1184.6,1534.0 L1181.6,1530.0Z M861.3,1594.6 L861.3,1600.6 L865.3,1597.6Z M919.0,1641.1 L919.0,1647.1 L915.0,1644.1Z M1036.1,1641.1 L1036.1,1647.1 L1040.1,1644.1Z M974.8,1755.0 L980.8,1755.0 L977.8,1759.0Z M1051.7,1756.4 L1051.7,1762.4 L1047.7,1759.4Z M1263.3,1756.4 L1263.3,1762.4 L1267.3,1759.4Z M1178.6,1808.0 L1184.6,1808.0 L1181.6,1812.0Z M1278.5,1677.3 L1278.5,1683.3 L1274.5,1680.3Z M1605.5,1677.3 L1605.5,1683.3 L1609.5,1680.3Z M1308.2,1807.8 L1314.2,1807.8 L1311.2,1811.8Z M1684.4,1619.0 L1690.4,1619.0 L1687.4,1623.0Z M1768.6,1712.8 L1768.6,1718.8 L1764.6,1715.8Z M1964.6,1218.8 L1964.6,1224.8 L1968.6,1221.8Z M1972.4,1263.8 L1972.4,1269.8 L1968.4,1266.8Z M1875.0,1360.0 L1881.0,1360.0 L1878.0,1356.0Z M1768.6,1404.3 L1768.6,1410.3 L1764.6,1407.3Z M1923.3,1404.3 L1923.3,1410.3 L1927.3,1407.3Z M1937.8,1437.0 L1943.8,1437.0 L1940.8,1441.0Z M2111.7,1436.2 L2117.7,1436.2 L2114.7,1440.2Z M2076.2,1452.4 L2082.2,1452.4 L2079.2,1448.4Z M1990.1,1478.3 L1990.1,1484.3 L1986.1,1481.3Z M2167.1,1478.3 L2167.1,1484.3 L2171.1,1481.3Z M2183.0,1479.5 L2183.0,1485.5 L2179.0,1482.5Z M1804.3,1499.0 L1804.3,1505.0 L1808.3,1502.0Z M1875.0,1509.6 L1881.0,1509.6 L1878.0,1513.6Z M2076.2,1509.6 L2082.2,1509.6 L2079.2,1513.6Z M1873.7,1525.8 L1879.7,1525.8 L1876.7,1521.8Z M2101.6,1525.8 L2107.6,1525.8 L2104.6,1521.8Z M1958.5,1585.4 L1958.5,1591.4 L1954.5,1588.4Z M2214.5,1585.6 L2214.5,1591.6 L2218.5,1588.6Z M2014.0,1712.7 L2014.0,1718.7 L2018.0,1715.7Z M1873.7,1808.1 L1879.7,1808.1 L1876.7,1812.1Z M2101.6,1808.1 L2107.6,1808.1 L2104.6,1812.1Z M2578.4,1250.9 L2578.4,1256.9 L2574.4,1253.9Z M2558.5,1263.9 L2558.5,1269.9 L2562.5,1266.9Z M2829.9,1250.9 L2829.9,1256.9 L2833.9,1253.9Z M2436.0,1452.1 L2442.0,1452.1 L2439.0,1448.1Z M2618.8,1479.9 L2618.8,1485.9 L2622.8,1482.9Z M2814.4,1441.5 L2820.4,1441.5 L2817.4,1437.5Z M2690.1,1433.7 L2696.1,1433.7 L2693.1,1437.7Z M2699.0,1495.3 L2699.0,1501.3 L2695.0,1498.3Z M2436.0,1808.8 L2442.0,1808.8 L2439.0,1812.8Z M2814.4,1766.3 L2820.4,1766.3 L2817.4,1770.3Z M3001.6,1494.9 L3001.6,1500.9 L3005.6,1497.9Z M2643.7,1987.7 L2649.7,1987.7 L2646.7,1983.7Z M2578.0,2143.6 L2578.0,2149.6 L2574.0,2146.6Z M2810.3,2143.6 L2810.3,2149.6 L2814.3,2146.6Z M2643.7,2304.5 L2649.7,2304.5 L2646.7,2308.5Z M2756.0,2319.6 L2762.0,2319.6 L2759.0,2315.6Z M2920.2,1976.7 L2926.2,1976.7 L2923.2,1972.7Z M2829.5,2210.1 L2829.5,2216.1 L2825.5,2213.1Z M3091.0,2210.1 L3091.0,2216.1 L3095.0,2213.1Z M3100.5,2210.1 L3100.5,2216.1 L3096.5,2213.1Z M2920.2,2260.2 L2926.2,2260.2 L2923.2,2264.2Z M2829.5,2268.6 L2835.5,2268.6 L2832.5,2264.6Z M3087.4,2268.6 L3093.4,2268.6 L3090.4,2264.6Z M3368.5,2167.7 L3374.5,2167.7 L3371.5,2163.7Z M3642.1,2210.8 L3642.1,2216.8 L3646.1,2213.8Z M3368.5,2260.3 L3374.5,2260.3 L3371.5,2264.3Z M3726.3,2116.6 L3732.3,2116.6 L3729.3,2112.6Z M3595.5,2577.0 L3595.5,2583.0 L3591.5,2580.0Z M3810.9,2577.0 L3810.9,2583.0 L3814.9,2580.0Z M3726.3,2748.9 L3732.3,2748.9 L3729.3,2752.9Z M3427.7,2745.8 L3427.7,2751.8 L3431.7,2748.8Z M2829.8,2408.9 L2829.8,2414.9 L2825.8,2411.9Z M2973.7,2408.9 L2973.7,2414.9 L2977.7,2411.9Z M2578.0,2482.6 L2578.0,2488.6 L2574.0,2485.6Z M2810.1,2482.6 L2810.1,2488.6 L2814.1,2485.6Z M2755.8,2672.6 L2761.8,2672.6 L2758.8,2676.6Z M2829.5,2672.6 L2835.5,2672.6 L2832.5,2676.6Z M2828.9,2758.1 L2828.9,2764.1 L2824.9,2761.1Z M3427.7,2758.1 L3427.7,2764.1 L3431.7,2761.1Z M3087.5,2789.1 L3093.5,2789.1 L3090.5,2793.1Z"/>
<rect x="79.6" y="2685.3" width="230.4" height="231.0" fill="#FFE512"/>
<text x="101.1" y="2887.2" font-size="41.4" fill="#6d6e70" font-weight="bold" textLength="186.1" lengthAdjust="spacingAndGlyphs" font-style="italic">RayWhite</text>
<circle cx="290" cy="2885" r="2.5" fill="none" stroke="#6d6e70" stroke-width="1"/>
<text x="349.2" y="2825.2" font-size="68.3" fill="#787878" font-weight="bold" textLength="231.3" lengthAdjust="spacingAndGlyphs" >Michael</text>
<text x="597.0" y="2825.2" font-size="68.3" fill="#787878" font-weight="bold" textLength="253.7" lengthAdjust="spacingAndGlyphs" >Willems:</text>
<text x="861.8" y="2825.2" font-size="68.3" fill="#787878" font-weight="normal" textLength="153.4" lengthAdjust="spacingAndGlyphs" >0412</text>
<text x="1030.2" y="2825.2" font-size="68.3" fill="#787878" font-weight="normal" textLength="115.5" lengthAdjust="spacingAndGlyphs" >240</text>
<text x="1162.4" y="2825.2" font-size="68.3" fill="#787878" font-weight="normal" textLength="111.1" lengthAdjust="spacingAndGlyphs" >176</text>
</svg></body></html>
